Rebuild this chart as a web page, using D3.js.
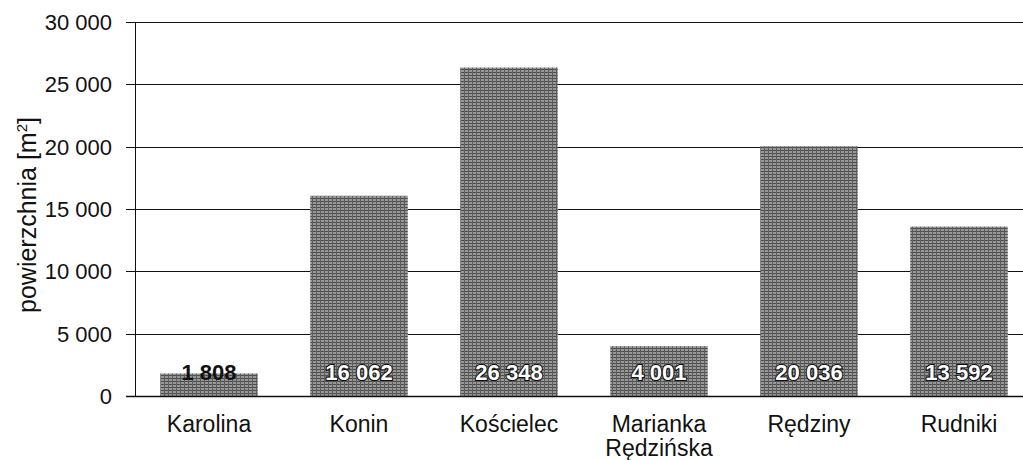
<!DOCTYPE html>
<html>
<head>
<meta charset="utf-8">
<script src="https://cdn.jsdelivr.net/npm/d3@7"></script>
<style>
  body { margin: 0; background: #fff; }
  text { font-family: "Liberation Sans", Arial, sans-serif; }
</style>
</head>
<body>
<svg width="1023" height="460"></svg>
<script>
// data
const categories = ["Karolina", "Konin", "Kościelec", "Marianka\nRędzińska", "Rędziny", "Rudniki"];
const values = [1808, 16062, 26348, 4001, 20036, 13592];
const yTicks = [0, 5000, 10000, 15000, 20000, 25000, 30000];

const svg = d3.select("svg");
const plotLeft = 135, plotRight = 1034, plotTop = 22, plotBottom = 396;

// halftone-like fill for the bars (the original is a scanned grey)
const pat = svg.append("defs").append("pattern")
  .attr("id", "screen")
  .attr("patternUnits", "userSpaceOnUse")
  .attr("width", 4)
  .attr("height", 3);
pat.append("rect").attr("width", 4).attr("height", 3).attr("fill", "#979797");
pat.append("rect").attr("width", 4).attr("height", 1).attr("fill", "#4e4e4e");
pat.append("rect").attr("width", 1).attr("height", 3).attr("fill", "#5c5c5c");

const x = d3.scaleBand()
  .domain(categories)
  .range([plotLeft - 1, plotRight])
  .paddingInner(0.35)
  .paddingOuter(0.175);

const y = d3.scaleLinear()
  .domain([0, 30000])
  .range([plotBottom, plotTop]);

// thousands with a space, like "25 000"
const fmt = v => d3.format(",")(v).replace(/,/g, " ");

// gridlines
svg.append("g")
  .selectAll("line")
  .data(yTicks)
  .enter()
  .append("line")
  .attr("x1", plotLeft - 9)
  .attr("x2", 1023)
  .attr("y1", d => Math.round(y(d)) + 0.5)
  .attr("y2", d => Math.round(y(d)) + 0.5)
  .attr("stroke", "#111")
  .attr("stroke-width", 1);

// y tick labels
svg.append("g")
  .selectAll("text")
  .data(yTicks)
  .enter()
  .append("text")
  .attr("x", plotLeft - 23)
  .attr("y", d => y(d) + 8)
  .attr("text-anchor", "end")
  .style("font-size", "22px")
  .attr("fill", "#111")
  .text(d => fmt(d));

// bars
svg.append("g")
  .selectAll("rect")
  .data(values)
  .enter()
  .append("rect")
  .attr("x", (d, i) => x(categories[i]))
  .attr("y", d => y(d))
  .attr("width", x.bandwidth())
  .attr("height", d => plotBottom - y(d))
  .attr("fill", "url(#screen)");

// y axis line and baseline
svg.append("line")
  .attr("x1", plotLeft + 0.5).attr("x2", plotLeft + 0.5)
  .attr("y1", plotTop).attr("y2", plotBottom)
  .attr("stroke", "#111");
svg.append("line")
  .attr("x1", plotLeft - 9).attr("x2", 1023)
  .attr("y1", plotBottom + 0.5).attr("y2", plotBottom + 0.5)
  .attr("stroke", "#111")
  .attr("stroke-width", 1.5);

// value labels near the base of each bar
svg.append("g")
  .selectAll("text")
  .data(values)
  .enter()
  .append("text")
  .attr("x", (d, i) => x(categories[i]) + x.bandwidth() / 2)
  .attr("y", plotBottom - 16)
  .attr("text-anchor", "middle")
  .attr("font-weight", 700)
  .style("font-size", "22px")
  .style("paint-order", "stroke")
  .attr("fill", d => plotBottom - y(d) > 30 ? "#fff" : "#111")
  .attr("stroke", d => plotBottom - y(d) > 30 ? "#111" : "none")
  .attr("stroke-width", 2.2)
  .text(d => fmt(d));

// category labels (may be two lines)
const cat = svg.append("g")
  .selectAll("text")
  .data(categories)
  .enter()
  .append("text")
  .attr("x", d => x(d) + x.bandwidth() / 2)
  .attr("text-anchor", "middle")
  .style("font-size", "23px")
  .attr("fill", "#111");
cat.each(function (d) {
  const t = d3.select(this);
  d.split("\n").forEach((line, i) => {
    t.append("tspan")
      .attr("x", t.attr("x"))
      .attr("y", 432 + i * 24)
      .text(line);
  });
});

// y axis title with superscript
const title = svg.append("text")
  .attr("transform", "translate(36," + 215 + ") rotate(-90)")
  .attr("text-anchor", "middle")
  .style("font-size", "25px")
  .attr("fill", "#111");
title.append("tspan").text("powierzchnia [m");
title.append("tspan").attr("dy", -9).style("font-size", "15px").text("2");
title.append("tspan").attr("dy", 9).text("]");
</script>
</body>
</html>
